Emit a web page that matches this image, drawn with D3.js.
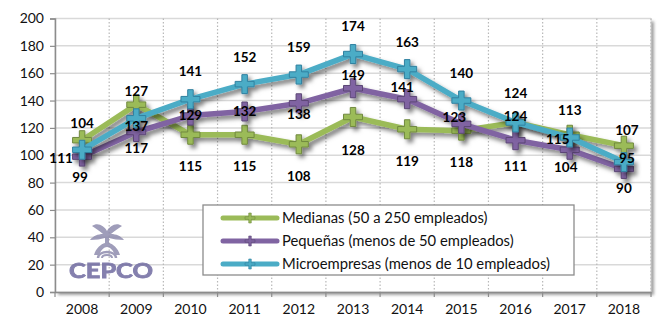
<!DOCTYPE html>
<html>
<head>
<meta charset="utf-8">
<script src="https://cdn.jsdelivr.net/npm/d3@7/dist/d3.min.js"></script>
<style>
  html, body { margin: 0; padding: 0; background: #fff; }
  svg { display: block; }
  text { font-family: Lato, "Open Sans", sans-serif; }
</style>
</head>
<body>
<svg id="chart" width="659" height="320"></svg>
<script>
// Years on the category axis
const years = ["2008","2009","2010","2011","2012","2013","2014","2015","2016","2017","2018"];

// Index values per company size
const medianas   = [111, 137, 115, 115, 108, 128, 119, 118, 124, 115, 107];
const pequenas   = [ 99, 117, 129, 132, 138, 149, 141, 123, 111, 104,  90];
const microempr  = [104, 127, 141, 152, 159, 174, 163, 140, 124, 113,  95];

const seriesNames = [
  "Medianas (50 a 250 empleados)",
  "Pequeñas (menos de 50 empleados)",
  "Microempresas (menos de 10 empleados)"
];

const yTicks = [0, 20, 40, 60, 80, 100, 120, 140, 160, 180, 200];

// Hand-placed label nudges [dx, dy] in pixels, relative to each point
const nudgeMedianas  = [[-21,18],[0,22],[0,32],[0,32],[0,32],[0,33],[0,32],[0,32],[0,-6],[-12,5],[3,-15]];
const nudgePequenas  = [[-2,21],[0,16],[0,0],[0,0],[0,11],[0,-13],[-5,-12],[-7,-7],[0,26],[-4,17],[0,19]];
const nudgeMicro     = [[0,-27],[0,-27],[0,-28],[0,-27],[0,-27],[0,-28],[0,-27],[0,-27],[0,-29],[0,-27],[3,-4]];

const colors   = ["#9BBB59", "#8064A2", "#4BACC6"];
const outlines = ["#71893f", "#5c4776", "#3181a0"];

const svg = d3.select("#chart");
const plotL = 55, plotR = 651, plotT = 18.5, plotB = 292;

const x = d3.scaleBand().domain(years).range([plotL, plotR]);
const y = d3.scaleLinear().domain([0, 200]).range([plotB, plotT]);

const defs = svg.append("defs");
const sh = defs.append("filter").attr("id", "shadow")
  .attr("x", "-10%").attr("y", "-10%").attr("width", "130%").attr("height", "140%");
sh.append("feDropShadow").attr("dx", 3).attr("dy", 3.5).attr("stdDeviation", 2)
  .attr("flood-color", "#000").attr("flood-opacity", 0.5);

const blurF = defs.append("filter").attr("id", "soft");
blurF.append("feGaussianBlur").attr("stdDeviation", 1.6);

const logoBlur = defs.append("filter").attr("id", "logoBlur");
logoBlur.append("feGaussianBlur").attr("stdDeviation", 0.6);

// Plot-area shadow on the right and bottom edges
svg.append("rect")
  .attr("x", plotL + 3).attr("y", plotT + 3)
  .attr("width", plotR - plotL).attr("height", plotB - plotT)
  .attr("fill", "#8a8a8a").attr("filter", "url(#soft)").attr("opacity", 0.8);
svg.append("rect")
  .attr("x", plotL).attr("y", plotT)
  .attr("width", plotR - plotL).attr("height", plotB - plotT)
  .attr("fill", "#fff").attr("stroke", "#d4d4d4").attr("stroke-width", 1);

// Horizontal gridlines
svg.append("g").selectAll("line").data(yTicks.filter(d => d > 0)).join("line")
  .attr("x1", plotL).attr("x2", plotR)
  .attr("y1", d => y(d)).attr("y2", d => y(d))
  .attr("stroke", "#d9d9d9").attr("stroke-width", 1.5);

// Vertical dotted gridlines at category boundaries
const bounds = years.slice(1).map(d => x(d)).concat([plotR]);
svg.append("g").selectAll("line").data(bounds).join("line")
  .attr("x1", d => d).attr("x2", d => d)
  .attr("y1", plotT).attr("y2", plotB)
  .attr("stroke", "#b8b8b8").attr("stroke-width", 1.2)
  .attr("stroke-dasharray", "1.5,2");

// CEPCO emblem
const logo = svg.append("g").attr("filter", "url(#logoBlur)").attr("opacity", 0.85);
const lc = "#8f8cae";
logo.append("path")
  .attr("d", "M92,226 C98,222 104,226 107,231 C110,226 116,222 122,226 C118,229 114,231 111,234 C116,234 121,236 124,240 C118,240 113,239 109,238 L109,243 C113,244 118,248 120,255 L115,255 C113,250 110,247 107,247 C104,247 101,250 99,255 L94,255 C96,248 101,244 105,243 L105,238 C101,239 96,240 90,240 C93,236 98,234 103,234 C100,231 96,229 92,226 Z")
  .attr("fill", lc);
logo.append("path")
  .attr("d", "M98,258 C98,250 116,250 116,258")
  .attr("fill", "none").attr("stroke", lc).attr("stroke-width", 2.5);
logo.append("path")
  .attr("d", "M102,258 C102,254 112,254 112,258")
  .attr("fill", "none").attr("stroke", lc).attr("stroke-width", 2);
logo.append("text")
  .attr("x", 111).attr("y", 278)
  .attr("text-anchor", "middle")
  .attr("font-family", "'DejaVu Sans', sans-serif")
  .attr("font-weight", "bold").attr("font-size", 20)
  .attr("textLength", 84).attr("lengthAdjust", "spacingAndGlyphs")
  .attr("fill", "#6f6aa0").attr("stroke", "#6f6aa0").attr("stroke-width", 0.8)
  .text("CEPCO");

// Axes
const yAxis = svg.append("g").attr("transform", `translate(${plotL},0)`)
  .call(d3.axisLeft(y).tickValues(yTicks).tickSize(5).tickPadding(6));
yAxis.select(".domain").attr("stroke", "#8c8c8c").attr("stroke-width", 1.5);
yAxis.selectAll(".tick line").attr("stroke", "#8c8c8c").attr("stroke-width", 1.2);
yAxis.selectAll(".tick text").attr("font-size", 14).attr("fill", "#111")
  .attr("font-family", "Lato, sans-serif");

const xAxis = svg.append("g").attr("transform", `translate(0,${plotB})`)
  .call(d3.axisBottom(x).tickSize(0).tickPadding(12));
xAxis.select(".domain").attr("stroke", "#8c8c8c").attr("stroke-width", 1.5);
xAxis.selectAll(".tick text").attr("font-size", 14).attr("fill", "#111")
  .attr("font-family", "Lato, sans-serif");
svg.append("g").selectAll("line").data([plotL].concat(bounds)).join("line")
  .attr("x1", d => d).attr("x2", d => d)
  .attr("y1", plotB).attr("y2", plotB + 5)
  .attr("stroke", "#8c8c8c").attr("stroke-width", 1.2);

// Series lines and markers
const allSeries = [medianas, pequenas, microempr];
const nudges = [nudgeMedianas, nudgePequenas, nudgeMicro];
const line = d3.line().x((d, i) => x(years[i]) + x.bandwidth() / 2).y(d => y(d));

function plusPath(cx, cy, a, w) {
  const h = w / 2;
  return `M${cx - h},${cy - a} L${cx + h},${cy - a} L${cx + h},${cy - h} L${cx + a},${cy - h} ` +
         `L${cx + a},${cy + h} L${cx + h},${cy + h} L${cx + h},${cy + a} L${cx - h},${cy + a} ` +
         `L${cx - h},${cy + h} L${cx - a},${cy + h} L${cx - a},${cy - h} L${cx - h},${cy - h} Z`;
}

allSeries.forEach((vals, s) => {
  const g = svg.append("g").attr("filter", "url(#shadow)");
  g.append("path").datum(vals)
    .attr("d", line)
    .attr("fill", "none")
    .attr("stroke", colors[s]).attr("stroke-width", 5.5)
    .attr("stroke-linejoin", "round");
  g.selectAll("path.mk").data(vals).join("path").attr("class", "mk")
    .attr("d", (d, i) => plusPath(x(years[i]) + x.bandwidth() / 2, y(d), 9.5, 5.5))
    .attr("fill", colors[s]).attr("stroke", outlines[s]).attr("stroke-width", 1);
});

// Value labels
allSeries.forEach((vals, s) => {
  svg.append("g").selectAll("text").data(vals).join("text")
    .attr("x", (d, i) => x(years[i]) + x.bandwidth() / 2 + nudges[s][i][0])
    .attr("y", (d, i) => y(d) + nudges[s][i][1])
    .attr("dy", "0.35em")
    .attr("text-anchor", "middle")
    .attr("font-size", 13.5).attr("font-weight", "bold").attr("fill", "#000")
    .text(d => d);
});

// Legend
const lg = svg.append("g");
lg.append("rect")
  .attr("x", 203).attr("y", 205).attr("width", 371).attr("height", 70)
  .attr("fill", "#fff").attr("stroke", "#8c8c8c").attr("stroke-width", 1.3);
seriesNames.forEach((name, s) => {
  const ry = 218 + s * 23;
  lg.append("line").attr("x1", 223).attr("x2", 277).attr("y1", ry).attr("y2", ry)
    .attr("stroke", colors[s]).attr("stroke-width", 5).attr("stroke-linecap", "round");
  lg.append("path").attr("d", plusPath(250, ry, 5, 2.5)).attr("fill", colors[s])
    .attr("stroke", outlines[s]).attr("stroke-width", 0.6);
  lg.append("text").attr("x", 282).attr("y", ry).attr("dy", "0.35em")
    .attr("font-size", 14.8).attr("fill", "#111")
    .attr("font-family", "'Open Sans', sans-serif")
    .text(name);
});
</script>
</body>
</html>
